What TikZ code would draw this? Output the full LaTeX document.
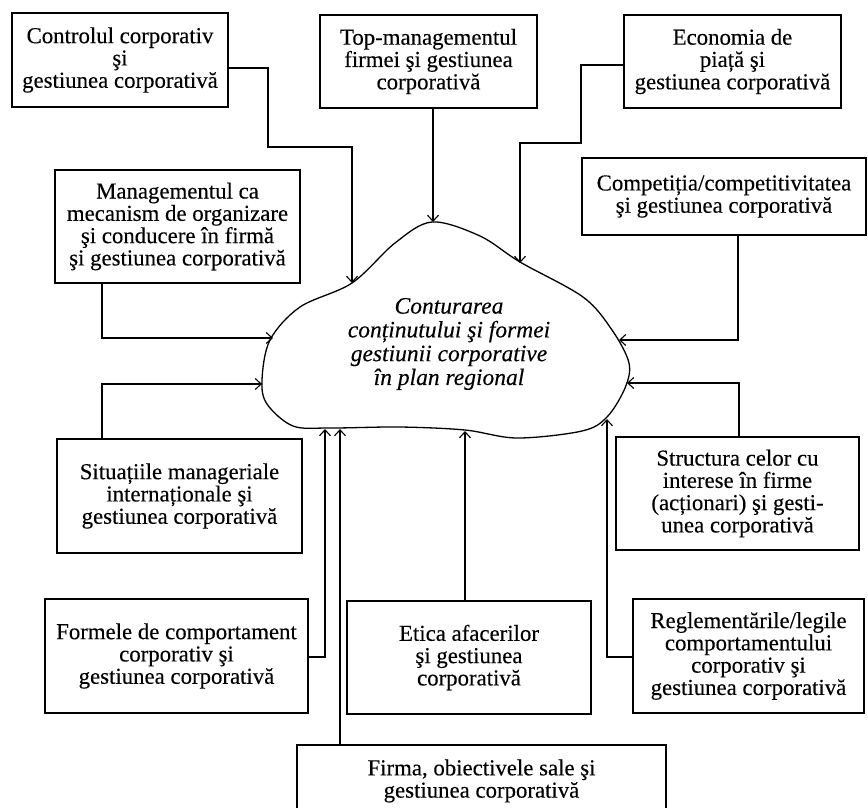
\documentclass[tikz,border=0pt]{standalone}
\usepackage{fontspec}
\setmainfont{Liberation Serif}[FakeBold=0.25]
\usetikzlibrary{arrows.meta}
\begin{document}
\begin{tikzpicture}[x=1pt,y=-1pt,
  box/.style={draw, line width=1.3pt, align=center, inner sep=0pt,
    font=\fontsize{22.8}{22.3}\selectfont},
  conn/.style={line width=1.1pt,
    -{Straight Barb[length=6pt,width=11pt,line width=1.1pt]}},
  core/.style={align=center, font=\fontsize{23.5}{23.8}\selectfont\itshape}]
\useasboundingbox (0,0) rectangle (868,807);
\clip (0,0) rectangle (868,807);

% central shape
\draw[line width=1.3pt] plot[smooth cycle, tension=0.55] coordinates {
  (432,222) (480,236) (520,262) (583,297) (612,330) (629,363) (625,388)
  (607,417) (582,431) (517,438) (465,430) (400,427) (330,428) (293,426)
  (267,404) (262,380) (270,340) (300,307) (352,283) (395,243)};
\node[core] (core) at (449,344) {Conturarea\\conținutului şi formei\\gestiunii corporative\\în plan regional};

% arrow targets on the outline
\coordinate (t1) at (352,283);
\coordinate (t2) at (433,222);
\coordinate (t3) at (520,263);
\coordinate (t4) at (619,340);
\coordinate (t5) at (273,338);
\coordinate (t6) at (262,384);
\coordinate (t7) at (627,383);
\coordinate (t8) at (325,429);
\coordinate (t9) at (340,429);
\coordinate (t10) at (465,431);
\coordinate (t11) at (607,419);

% boxes
\node[box, minimum width=216pt, minimum height=94pt] (b1) at (120,60)
  {Controlul corporativ\\şi\\gestiunea corporativă};
\node[box, minimum width=217pt, minimum height=93pt] (b2) at (428.5,61.5)
  {Top-managementul\\firmei şi gestiunea\\corporativă};
\node[box, minimum width=217pt, minimum height=93pt] (b3) at (732.5,61.5)
  {Economia de\\piață şi\\gestiunea corporativă};
\node[box, minimum width=284pt, minimum height=77pt] (b4) at (724,196.5)
  {Competiția/competitivitatea\\şi gestiunea corporativă};
\node[box, minimum width=245pt, minimum height=113pt] (b5) at (177.5,226.5)
  {Managementul ca\\mecanism de organizare\\şi conducere în firmă\\şi gestiunea corporativă};
\node[box, minimum width=245pt, minimum height=114pt] (b6) at (179.5,496)
  {Situațiile manageriale\\internaționale şi\\gestiunea corporativă};
\node[box, minimum width=243pt, minimum height=113pt] (b7) at (737.5,493.5)
  {Structura celor cu\\interese în firme\\(acționari) şi gesti-\\unea corporativă};
\node[box, minimum width=263pt, minimum height=114pt] (b8) at (176.5,656)
  {Formele de comportament\\corporativ şi\\gestiunea corporativă};
\node[box, minimum width=244pt, minimum height=113pt] (b10) at (469,657.5)
  {Etica afacerilor\\şi gestiunea\\corporativă};
\node[box, minimum width=231pt, minimum height=114pt] (b11) at (748.5,656)
  {Reglementările/legile\\comportamentului\\corporativ şi\\gestiunea corporativă};
\node[box, minimum width=369pt, minimum height=72pt] (b9) at (481.5,781)
  {Firma, obiectivele sale şi\\gestiunea corporativă};

% connectors
\draw[conn] ([yshift=-8pt]b1.east) -| (268,147) -| (t1);
\draw[conn] (b2.south -| t2) -- (t2);
\draw[conn] ([yshift=-3.5pt]b3.west) -| (581,143) -| (t3);
\draw[conn] ([xshift=14pt]b4.south) |- (t4);
\draw[conn] ([xshift=-75.5pt]b5.south) |- (t5);
\draw[conn] ([xshift=-77.5pt]b6.north) |- (t6);
\draw[conn] ([xshift=1.5pt]b7.north) |- (t7);
\draw[conn] ([yshift=-1pt]b8.east) -| (t8);
\draw[conn] (b9.north -| t9) -- (t9);
\draw[conn] (b10.north -| t10) -- (t10);
\draw[conn] ([yshift=-1pt]b11.west) -| (t11);
\end{tikzpicture}
\end{document}
